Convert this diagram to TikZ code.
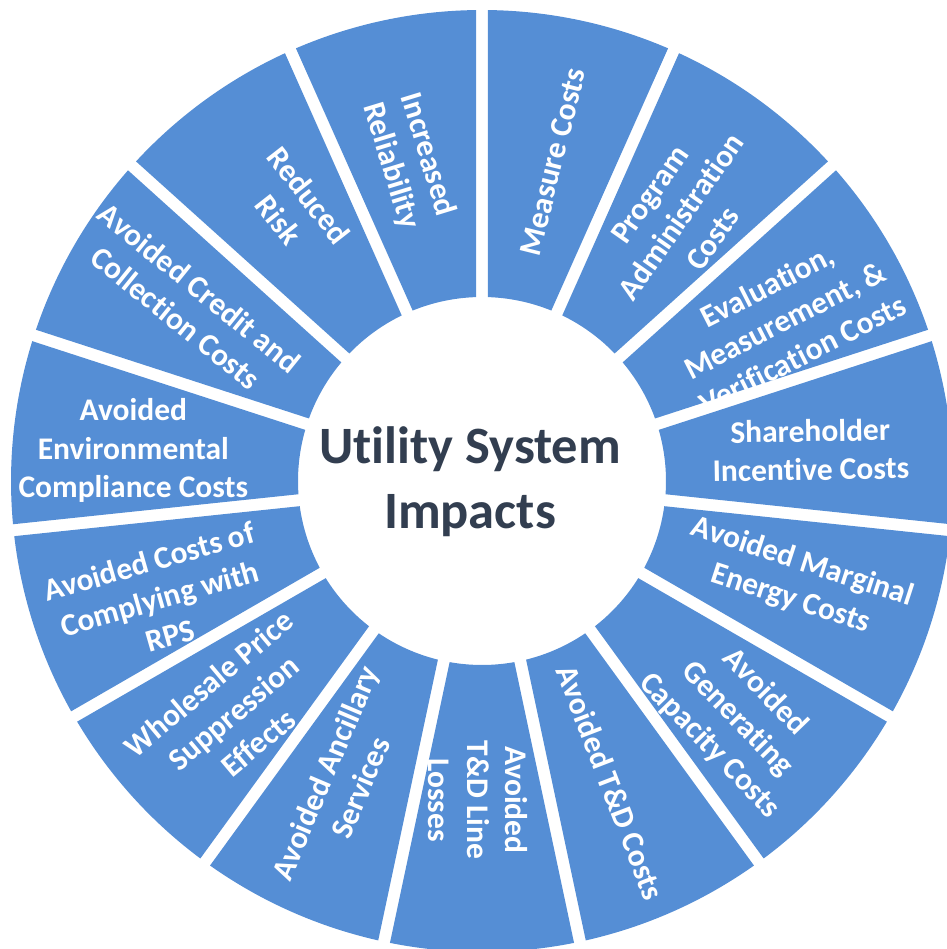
\documentclass[tikz,border=0pt]{standalone}
\usepackage{fontspec}
\setmainfont{Carlito}[RawFeature={-liga;-clig}]
\definecolor{segblue}{RGB}{85,142,213}
\definecolor{hubtext}{RGB}{50,62,80}
\begin{document}
\begin{tikzpicture}[x=1pt,y=1pt,
  seglabel/.style={text=white,font=\fontsize{31.5}{38.5}\selectfont\bfseries,align=center,inner sep=0pt},
  hublabel/.style={text=hubtext,font=\fontsize{52.5}{65}\selectfont\bfseries,align=center,inner sep=0pt},
  segment/.style={fill=segblue}]
\useasboundingbox (-482,-468) rectangle (464,481);
\def\Ro{471}\def\Ri{184}
\pgfmathsetmacro\dO{asin(6/\Ro)}
\pgfmathsetmacro\dI{asin(6/\Ri)}
\foreach \k in {0,...,14}{
  \pgfmathsetmacro\aO{90-24*\k-\dO}
  \pgfmathsetmacro\bO{66-24*\k+\dO}
  \pgfmathsetmacro\aI{90-24*\k-\dI}
  \pgfmathsetmacro\bI{66-24*\k+\dI}
  \path[segment] (\bO:\Ro) arc[start angle=\bO, end angle=\aO, radius=\Ro]
     -- (\aI:\Ri) arc[start angle=\aI, end angle=\bI, radius=\Ri] -- cycle;
}
\node[hublabel] (hub) at (-12,-1) {Utility System\\Impacts};
\node[seglabel,rotate=76] (s1) at (77.5:327) {Measure Costs};
\node[seglabel,rotate=55] (s2) at (53:331) {Program\\Administration\\Costs};
\node[seglabel,rotate=27] (s3) at (28:343) {Evaluation,\\Measurement, \&\\Verification Costs};
\node[seglabel,rotate=1] (s4) at (5.4:330) {Shareholder\\Incentive Costs};
\node[seglabel,rotate=-18] (s5) at (-17.6:330) {Avoided Marginal\\Energy Costs};
\node[seglabel,rotate=-46] (s6) at (-43:349) {Avoided\\Generating\\Capacity Costs};
\node[seglabel,rotate=-69] (s7) at (-66.9:328) {Avoided T\&D Costs};
\node[seglabel,rotate=-90] (s8) at (-90.7:319) {Avoided\\T\&D Line\\Losses};
\node[seglabel,rotate=67] (s9) at (-115:330) {Avoided Ancillary\\Services};
\node[seglabel,rotate=40] (s10) at (-137:340) {Wholesale Price\\Suppression\\Effects};
\node[seglabel,rotate=16] (s11) at (-160:343) {Avoided Costs of\\Complying with\\RPS};
\node[seglabel,rotate=0] (s12) at (175:350) {Avoided\\Environmental\\Compliance Costs};
\node[seglabel,rotate=-39] (s13) at (148.8:344) {Avoided Credit and\\Collection Costs};
\node[seglabel,rotate=-52] (s14) at (124.5:332) {Reduced\\Risk};
\node[seglabel,rotate=-73] (s15) at (102.8:329) {Increased\\Reliability};
\end{tikzpicture}
\end{document}
